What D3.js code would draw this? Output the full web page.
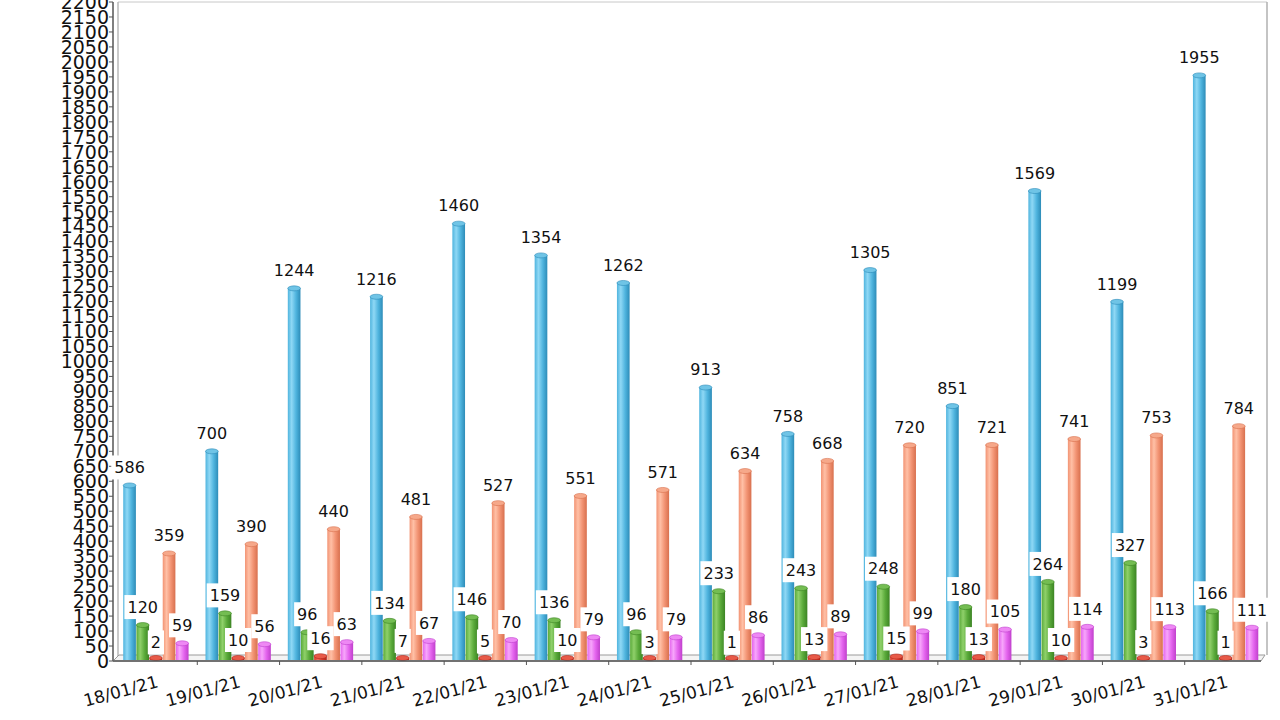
<!DOCTYPE html>
<html>
<head>
<meta charset="utf-8">
<script src="https://cdn.jsdelivr.net/npm/d3@7/dist/d3.min.js"></script>
<style>
html,body{margin:0;padding:0;background:#fff;}
svg{display:block;}
</style>
</head>
<body>
<svg id="chart" width="1280" height="720"></svg>
<script>
const dates = ["18/01/21","19/01/21","20/01/21","21/01/21","22/01/21","23/01/21","24/01/21","25/01/21","26/01/21","27/01/21","28/01/21","29/01/21","30/01/21","31/01/21"];
const seriesBlue   = [586,700,1244,1216,1460,1354,1262,913,758,1305,851,1569,1199,1955];
const seriesGreen  = [120,159,96,134,146,136,96,233,243,248,180,264,327,166];
const seriesRed    = [2,10,16,7,5,10,3,1,13,15,13,10,3,1];
const seriesOrange = [359,390,440,481,527,551,571,634,668,720,721,741,753,784];
const seriesPink   = [59,56,63,67,70,79,79,86,89,99,105,114,113,111];
const yTicks = d3.range(0, 2201, 50);

(function(){
const seriesKeys = ["blue","green","red","orange","pink"];
const seriesData = {blue:seriesBlue, green:seriesGreen, red:seriesRed, orange:seriesOrange, pink:seriesPink};
const colors = {
  blue:  {light:"#8fd8f5", mid:"#4fb4de", dark:"#2d8cb8", top:"#6fc4e6"},
  green: {light:"#8fd06a", mid:"#5aaa3a", dark:"#3c8424", top:"#74bd52"},
  red:   {light:"#f07060", mid:"#d83a2a", dark:"#b02418", top:"#e85a48"},
  orange:{light:"#ffc0a6", mid:"#f29373", dark:"#d8704e", top:"#f6a88a"},
  pink:  {light:"#f7a6fb", mid:"#e464ee", dark:"#c040cc", top:"#ee88f4"}
};

const svg = d3.select("#chart");
const pL = 115, pR = 1267, pT = 2, pB = 661;

const y = d3.scaleLinear().domain([0, 2200]).range([pB, pT]);
const x0 = d3.scaleBand().domain(dates).range([pL, pR]).paddingInner(0.2).paddingOuter(0.1);
const x1 = d3.scaleBand().domain(seriesKeys).range([0, x0.bandwidth()]).padding(0);

const defs = svg.append("defs");
seriesKeys.forEach(k => {
  const g = defs.append("linearGradient").attr("id", "g-" + k).attr("x1", "0").attr("x2", "1").attr("y1", "0").attr("y2", "0");
  g.append("stop").attr("offset", "0%").attr("stop-color", colors[k].mid);
  g.append("stop").attr("offset", "30%").attr("stop-color", colors[k].light);
  g.append("stop").attr("offset", "65%").attr("stop-color", colors[k].mid);
  g.append("stop").attr("offset", "100%").attr("stop-color", colors[k].dark);
});

// back wall frame
svg.append("line").attr("x1", pL + 3).attr("x2", pR).attr("y1", pT).attr("y2", pT).attr("stroke", "#c8c8c8").attr("stroke-width", 1);
svg.append("line").attr("x1", pR).attr("x2", pR).attr("y1", pT).attr("y2", pB - 6).attr("stroke", "#b0b0b0").attr("stroke-width", 1.5);

// left wall
svg.append("line").attr("x1", pL + 3).attr("x2", pL + 3).attr("y1", pT).attr("y2", pB - 5).attr("stroke", "#b8b8b8").attr("stroke-width", 1.5);
svg.append("line").attr("x1", pL - 2).attr("x2", pL - 2).attr("y1", pT).attr("y2", pB).attr("stroke", "#555").attr("stroke-width", 1.5);

// floor
svg.append("path")
  .attr("d", `M${pL - 2},${pB} L${pL + 4},${pB - 6} L${pR - 2},${pB - 6} L${pR - 6},${pB} Z`)
  .attr("fill", "#f4f4f4").attr("stroke", "#9a9a9a").attr("stroke-width", 1);

// y ticks
const yg = svg.append("g");
yTicks.forEach(t => {
  yg.append("line").attr("x1", pL - 6).attr("x2", pL - 2).attr("y1", y(t)).attr("y2", y(t)).attr("stroke", "#555");
  yg.append("text").attr("x", pL - 6).attr("y", y(t)).attr("dy", "0.36em").attr("text-anchor", "end")
    .attr("font-family", "DejaVu Sans").attr("font-size", 19).attr("fill", "#111").text(t);
});

// bars
const barsG = svg.append("g");
const labels = [];
dates.forEach((d, i) => {
  seriesKeys.forEach(k => {
    const v = seriesData[k][i];
    const bx = x0(d) + x1(k);
    const bw = x1.bandwidth() - 0.5;
    const base = y(0) - 1;
    const yt = Math.min(y(v), base - 2);
    barsG.append("rect").attr("x", bx).attr("y", yt).attr("width", bw).attr("height", base - yt)
      .attr("fill", `url(#g-${k})`);
    barsG.append("ellipse").attr("cx", bx + bw / 2).attr("cy", yt).attr("rx", bw / 2).attr("ry", 2.5)
      .attr("fill", colors[k].top).attr("stroke", colors[k].dark).attr("stroke-width", 0.6);
    labels.push({x: bx + bw / 2, y: y(v), v});
  });
});

// front floor edge and x ticks
svg.append("line").attr("x1", pL - 2).attr("x2", pR - 6).attr("y1", pB).attr("y2", pB).attr("stroke", "#555").attr("stroke-width", 1.5);
dates.forEach((d, i) => {
  const xs = x0(d) - x0.step() * x0.paddingInner() / 2;
  if (i > 0) svg.append("line").attr("x1", xs).attr("x2", xs).attr("y1", pB).attr("y2", pB + 4).attr("stroke", "#555");
});

// value labels with white boxes
const lg = svg.append("g");
labels.forEach(l => {
  const cy = l.y - 18;
  const w = String(l.v).length * 10.2 + 6;
  lg.append("rect").attr("x", l.x - w / 2).attr("y", cy - 12).attr("width", w).attr("height", 24).attr("fill", "#fff");
  lg.append("text").attr("x", l.x).attr("y", cy).attr("dy", "0.36em").attr("text-anchor", "middle")
    .attr("font-family", "DejaVu Sans").attr("font-size", 16).attr("fill", "#111").text(l.v);
});

// x labels
dates.forEach(d => {
  const cx = x0(d) + x0.bandwidth() / 2 + 3;
  svg.append("text").attr("transform", `translate(${cx},${pB + 26}) rotate(-15)`)
    .attr("text-anchor", "end").attr("font-family", "DejaVu Sans").attr("font-size", 17).attr("fill", "#111").text(d);
});
})();
</script>
</body>
</html>
